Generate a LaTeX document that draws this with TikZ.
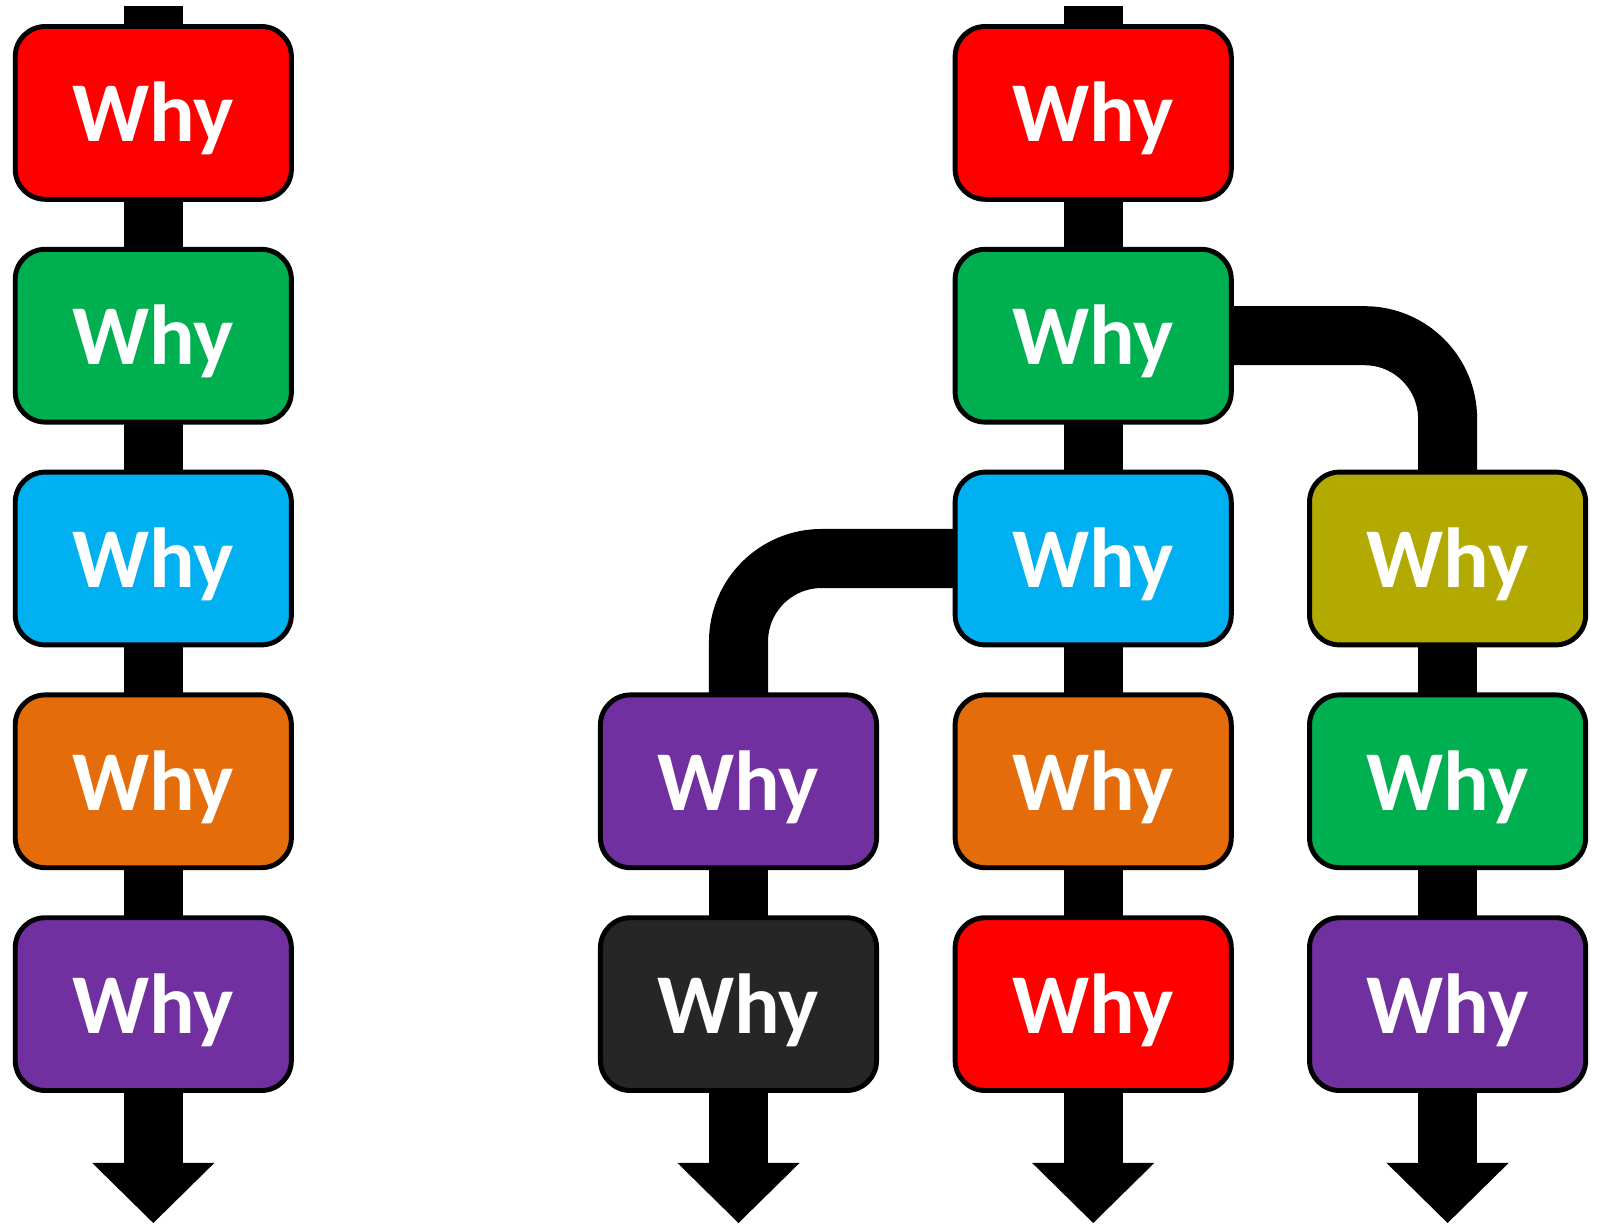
\documentclass[tikz,border=0pt]{standalone}
\usepackage{fontspec}
\setmainfont{Carlito}[BoldFont={Carlito Bold},UprightFont={Carlito}]
\usetikzlibrary{arrows.meta,backgrounds}
\definecolor{whyred}{HTML}{FF0000}
\definecolor{whygreen}{HTML}{00B050}
\definecolor{whyblue}{HTML}{00B0F0}
\definecolor{whyorange}{HTML}{E46C0A}
\definecolor{whypurple}{HTML}{7030A0}
\definecolor{whyolive}{HTML}{B2AA00}
\definecolor{whydark}{HTML}{262626}
\tikzset{
  whybox/.style={draw=black,line width=1.4pt,rounded corners=0.3cm,
    minimum width=2.76cm,minimum height=1.727cm,inner sep=0pt,
    text=white,font=\fontsize{24.2}{29}\selectfont\bfseries,
    text height=0.73cm,text depth=0.15cm},
  stem/.style={draw=black,line width=0.59cm},
  spitze/.style={-{Triangle[width=1.22cm,length=0.6cm,line width=0pt]}}
}
\begin{document}
\begin{tikzpicture}[x=0.01cm,y=-0.01cm]
\def\ca{153.3}
\def\cb{738.5}
\def\cc{1093.2}
\def\cd{1447.6}
\def\dy{222.8}
\def\pfeil#1#2{
\draw[stem,spitze] #1 -- #2;
}
\useasboundingbox (0,0) rectangle (1600,1224);
% left chain
\node[whybox,fill=whyred] (w1) at (\ca,112.9) {Why};
\node[whybox,fill=whygreen] (w2) at (\ca,{112.9+\dy}) {Why};
\node[whybox,fill=whyblue] (w3) at (\ca,{112.9+2*\dy}) {Why};
\node[whybox,fill=whyorange] (w4) at (\ca,{112.9+3*\dy}) {Why};
\node[whybox,fill=whypurple] (w5) at (\ca,{112.9+4*\dy}) {Why};
% main branch
\node[whybox,fill=whyred] (r1) at (\cc,112.9) {Why};
\node[whybox,fill=whygreen] (r2) at (\cc,{112.9+\dy}) {Why};
\node[whybox,fill=whyblue] (r3) at (\cc,{112.9+2*\dy}) {Why};
\node[whybox,fill=whyorange] (r4) at (\cc,{112.9+3*\dy}) {Why};
\node[whybox,fill=whyred] (r5) at (\cc,{112.9+4*\dy}) {Why};
% side branches
\node[whybox,fill=whypurple] (p1) at (\cb,{112.9+3*\dy}) {Why};
\node[whybox,fill=whydark] (p2) at (\cb,{112.9+4*\dy}) {Why};
\node[whybox,fill=whyolive] (q1) at (\cd,{112.9+2*\dy}) {Why};
\node[whybox,fill=whygreen] (q2) at (\cd,{112.9+3*\dy}) {Why};
\node[whybox,fill=whypurple] (q3) at (\cd,{112.9+4*\dy}) {Why};
\coordinate (topa) at (\ca,6);
\coordinate (topc) at (\cc,6);
\coordinate (enda) at (\ca,1223);
\coordinate (endb) at (\cb,1223);
\coordinate (endc) at (\cc,1223);
\coordinate (endd) at (\cd,1223);
\begin{scope}[on background layer]
\pfeil{(topa)}{(enda)}
\pfeil{(topc)}{(endc)}
\pfeil{(p1.center)}{(endb)}
\pfeil{(q1.center)}{(endd)}
\draw[stem,rounded corners=0.83cm] (r2.center) -| (q1.center);
\draw[stem,rounded corners=0.83cm] (r3.center) -| (p1.center);
\end{scope}
\end{tikzpicture}
\end{document}
